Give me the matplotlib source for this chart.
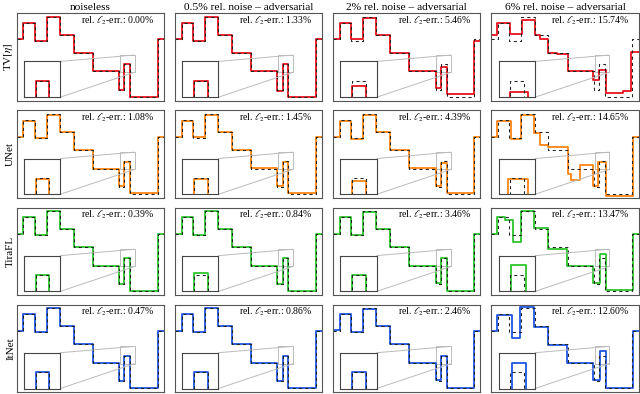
import matplotlib
matplotlib.use("Agg")
import matplotlib.pyplot as plt
from mpl_toolkits.axes_grid1.inset_locator import mark_inset

plt.rcParams["font.family"] = ["Liberation Serif", "DejaVu Serif"]
plt.rcParams["mathtext.fontset"] = "stix"

# row / column labels
methods = ["TV$[\\eta]$", "UNet", "TiraFL", "ItNet"]
noise_titles = ["noiseless", "0.5% rel. noise \u2013 adversarial",
                "2% rel. noise \u2013 adversarial", "6% rel. noise \u2013 adversarial"]
colors = ["#e8141c", "#ff8514", "#2ec42e", "#1f55e0"]

# relative l2 errors (%) per method and noise level
tv_err = [0.00, 1.33, 5.46, 15.74]
unet_err = [1.08, 1.45, 4.39, 14.65]
tirafl_err = [0.39, 0.84, 3.46, 13.47]
itnet_err = [0.47, 0.86, 2.46, 12.60]

# ground truth signal (piecewise constant)
gt_edges = [0, 0.045, 0.122, 0.203, 0.293, 0.387, 0.518, 0.696, 0.732, 0.770, 0.957, 1.0]
gt_levels = [0.72, 0.93, 0.70, 1.00, 0.78, 0.55, 0.32, 0.09, 0.41, 0.00, 0.72]

# reconstructions, one per noise level
tv_edges = [gt_edges, gt_edges, gt_edges,
            [0, 0.038, 0.124, 0.207, 0.293, 0.331, 0.387, 0.448, 0.523, 0.691, 0.732, 0.781, 0.894, 0.950, 1.0]]
tv_levels = [gt_levels,
             [0.72, 0.93, 0.70, 1.00, 0.78, 0.55, 0.32, 0.08, 0.41, 0.00, 0.73],
             [0.73, 0.92, 0.72, 0.99, 0.78, 0.55, 0.33, 0.12, 0.38, 0.04, 0.70],
             [0.78, 0.92, 0.785, 0.967, 0.78, 0.72, 0.554, 0.537, 0.33, 0.215, 0.34, 0.05, 0.078, 0.566]]

unet_edges = [gt_edges, gt_edges, gt_edges,
              [0, 0.038, 0.133, 0.200, 0.286, 0.331, 0.387, 0.523, 0.538, 0.601, 0.691, 0.725, 0.781, 0.962, 1.0]]
unet_levels = [[0.72, 0.92, 0.70, 0.99, 0.78, 0.55, 0.32, 0.10, 0.40, 0.01, 0.72],
               [0.72, 0.92, 0.71, 0.99, 0.78, 0.55, 0.33, 0.10, 0.40, 0.01, 0.72],
               [0.72, 0.92, 0.69, 0.99, 0.78, 0.55, 0.33, 0.10, 0.39, 0.01, 0.71],
               [0.72, 0.918, 0.69, 0.99, 0.76, 0.62, 0.587, 0.25, 0.173, 0.36, 0.10, 0.40, -0.02, 0.72]]

tirafl_edges = [gt_edges, gt_edges, gt_edges,
                [0, 0.038, 0.095, 0.146, 0.200, 0.286, 0.387, 0.516, 0.691, 0.735, 0.776, 0.962, 1.0]]
tirafl_levels = [gt_levels,
                 [0.72, 0.93, 0.70, 1.00, 0.78, 0.55, 0.32, 0.09, 0.42, 0.00, 0.72],
                 [0.72, 0.93, 0.70, 0.99, 0.78, 0.55, 0.32, 0.10, 0.41, 0.01, 0.72],
                 [0.72, 0.926, 0.893, 0.615, 1.00, 0.79, 0.533, 0.314, 0.099, 0.471, 0.016, 0.72]]

itnet_edges = [gt_edges, gt_edges, gt_edges,
               [0, 0.038, 0.140, 0.196, 0.286, 0.387, 0.516, 0.691, 0.737, 0.776, 0.962, 1.0]]
itnet_levels = [gt_levels,
                [0.72, 0.93, 0.70, 1.00, 0.78, 0.55, 0.32, 0.09, 0.41, 0.01, 0.72],
                [0.73, 0.93, 0.70, 0.99, 0.78, 0.55, 0.32, 0.10, 0.41, 0.01, 0.72],
                [0.723, 0.918, 0.628, 1.013, 0.765, 0.546, 0.318, 0.103, 0.463, 0.00, 0.72]]

all_edges = [tv_edges, unet_edges, tirafl_edges, itnet_edges]
all_levels = [tv_levels, unet_levels, tirafl_levels, itnet_levels]
all_err = [tv_err, unet_err, tirafl_err, itnet_err]


def draw_signal(ax, edges, levels, color):
    ax.step(edges, levels + [levels[-1]], where="post", color=color, lw=1.3)
    ax.step(gt_edges, gt_levels + [gt_levels[-1]], where="post", color="#222222",
            lw=0.75, linestyle=(0, (3, 3)))


fig, axes = plt.subplots(4, 4, figsize=(6.4, 3.94), dpi=100)
fig.subplots_adjust(left=0.026, right=0.998, top=0.966, bottom=0.005,
                    wspace=0.074, hspace=0.112)

for i in range(4):
    for j in range(4):
        ax = axes[i, j]
        draw_signal(ax, all_edges[i][j], all_levels[i][j], colors[i])
        ax.set_xlim(0, 1)
        ax.set_ylim(-0.045, 1.045)
        ax.set_xticks([])
        ax.set_yticks([])
        for s in ax.spines.values():
            s.set_color("#555555")
            s.set_linewidth(0.8)
        ax.text(0.935, 0.915, f"rel. $\\ell_2$-err.: {all_err[i][j]:.2f}%",
                transform=ax.transAxes, ha="right", va="center", fontsize=7)

        # zoom on the small peak
        axins = ax.inset_axes([0.05, 0.04, 0.245, 0.41])
        draw_signal(axins, all_edges[i][j], all_levels[i][j], colors[i])
        axins.set_xlim(0.70, 0.80)
        axins.set_ylim(0.31, 0.525)
        axins.set_xticks([])
        axins.set_yticks([])
        for s in axins.spines.values():
            s.set_color("#444444")
            s.set_linewidth(0.8)
        mark_inset(ax, axins, loc1=1, loc2=4, fc="none", ec="#bbbbbb", lw=0.7)

        if i == 0:
            ax.set_title(noise_titles[j], fontsize=8.2, pad=2.5)
        if j == 0:
            ax.set_ylabel(methods[i], fontsize=8, labelpad=1)

fig.savefig("out.png", dpi=100)
